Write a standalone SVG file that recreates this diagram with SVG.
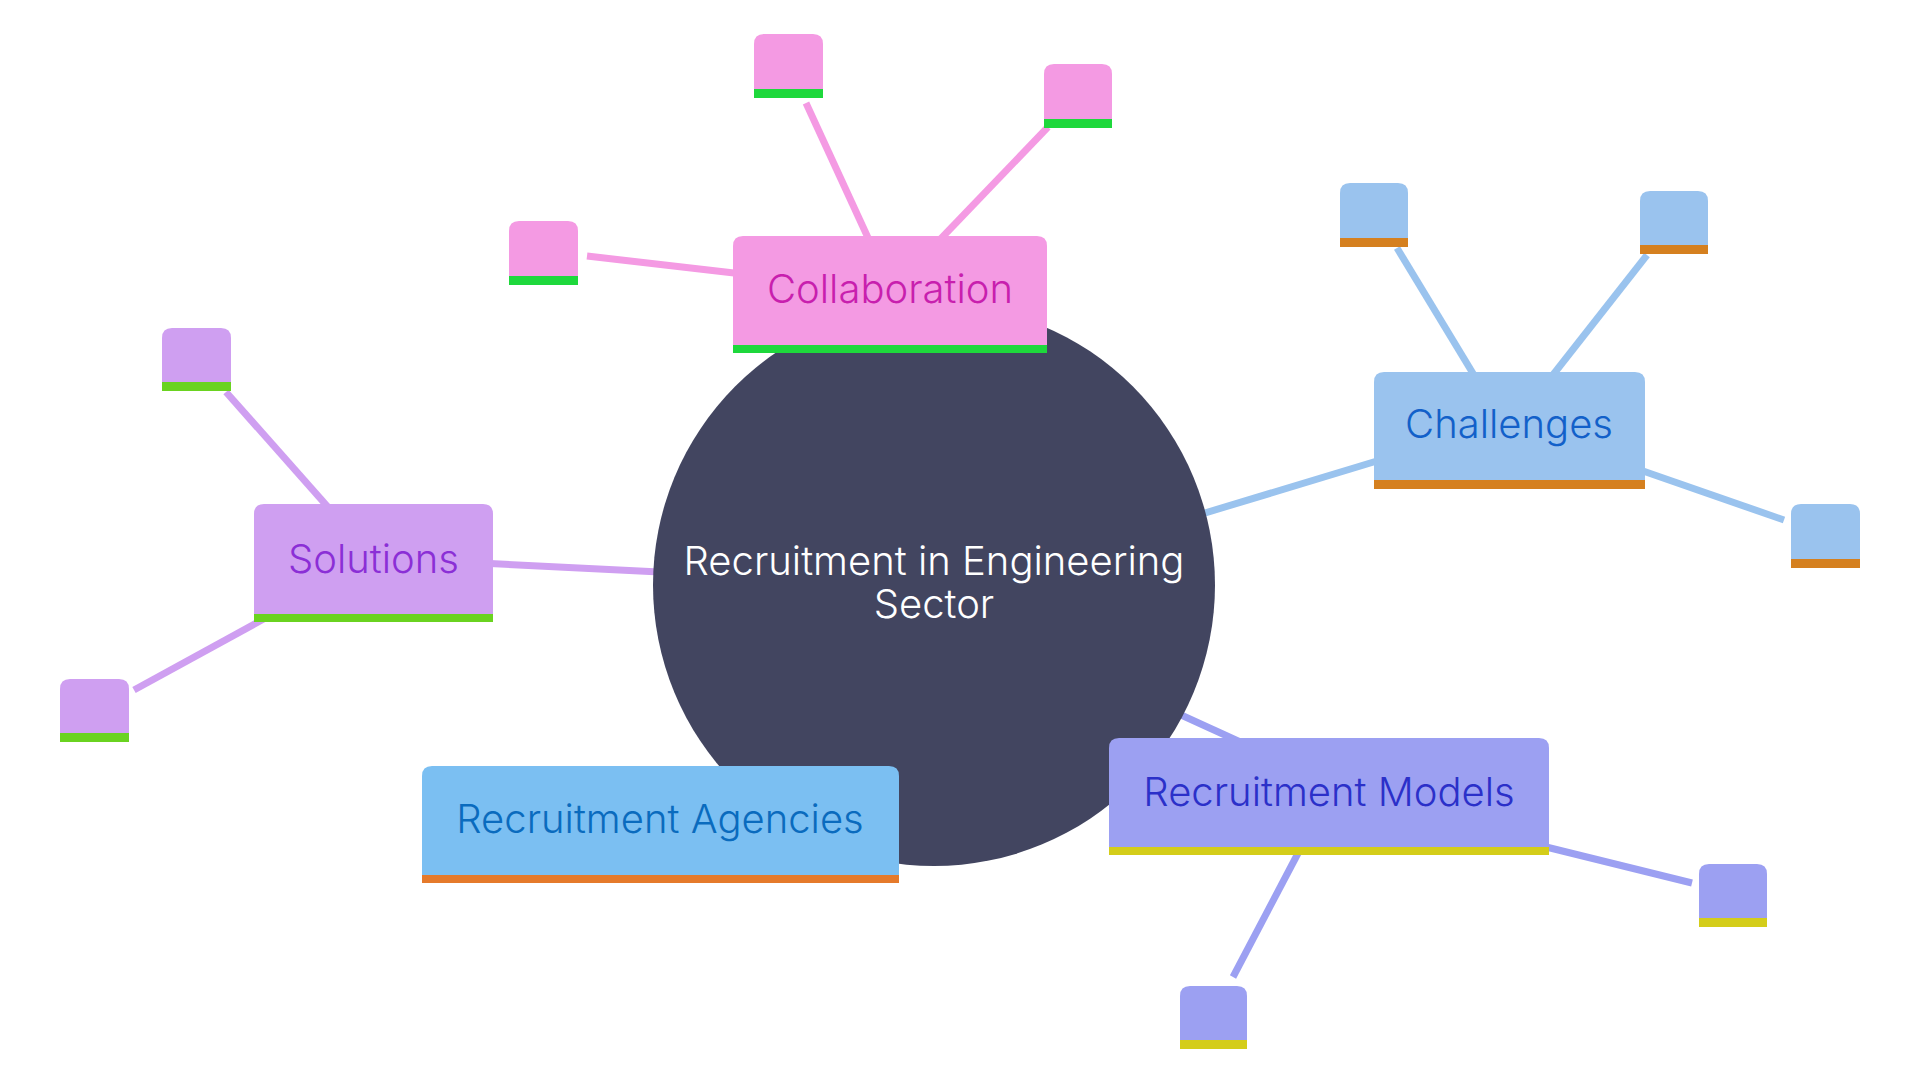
<svg xmlns="http://www.w3.org/2000/svg" width="1920" height="1080" viewBox="0 0 1920 1080">
<style>
  text { font-family: Inter, "Liberation Sans", sans-serif; font-size: 40px; font-weight: 300; text-anchor: middle; }
  .edge { fill: none; stroke-width: 7; stroke-linecap: butt; }
  .e-collab { stroke: #F49AE3; }
  .e-chal { stroke: #9AC3EE; }
  .e-sol { stroke: #CF9FF1; }
  .e-mod { stroke: #9CA0F2; }
  .f-collab { fill: #F49AE3; }
  .f-chal { fill: #9AC3EE; }
  .f-sol { fill: #CF9FF1; }
  .f-agen { fill: #7BBFF2; }
  .f-mod { fill: #9CA0F2; }
  .b-green { fill: #1ED83C; }
  .b-orange { fill: #D5801F; }
  .b-lime { fill: #6AD320; }
  .b-orange2 { fill: #E57A2B; }
  .b-yellow { fill: #D4CD1A; }
  .t-collab { fill: #C81FAE; }
  .t-chal { fill: #1260C9; }
  .t-sol { fill: #8B2FD6; }
  .t-agen { fill: #0A6BBE; }
  .t-mod { fill: #2B30C9; }
  .t-root { fill: #FFFFFF; font-size: 40px; }
</style>
<rect width="1920" height="1080" fill="#FFFFFF"/>
<g id="connectors">
  <line class="edge e-collab" x1="587" y1="256" x2="760" y2="276"/>
  <line class="edge e-collab" x1="806" y1="103" x2="875" y2="253"/>
  <line class="edge e-collab" x1="1048" y1="127" x2="930" y2="250"/>
  <line class="edge e-chal" x1="1000" y1="575" x2="1400" y2="454"/>
  <line class="edge e-chal" x1="1397" y1="248" x2="1480" y2="385"/>
  <line class="edge e-chal" x1="1647" y1="255" x2="1545" y2="385"/>
  <line class="edge e-chal" x1="1784" y1="520" x2="1620" y2="463"/>
  <line class="edge e-sol" x1="480" y1="563" x2="700" y2="574"/>
  <line class="edge e-sol" x1="226" y1="392" x2="335" y2="515"/>
  <line class="edge e-sol" x1="134" y1="690" x2="280" y2="610"/>
  <line class="edge e-mod" x1="1100" y1="678" x2="1260" y2="751"/>
  <line class="edge e-mod" x1="1530" y1="843" x2="1692" y2="883"/>
  <line class="edge e-mod" x1="1305" y1="840" x2="1233" y2="977"/>
</g>
<g id="root">
  <circle cx="934" cy="585" r="281" fill="#424560"/>
  <text class="t-root" x="934" y="575">Recruitment in Engineering<tspan x="934" dy="43">Sector</tspan></text>
</g>
<g id="collaboration">
  <path class="f-collab" d="M733,353 V246 Q733,236 743,236 H1037 Q1047,236 1047,246 V353 Z"/>
  <rect class="b-green" x="733" y="345" width="314" height="8"/>
  <text class="t-collab" x="890" y="303">Collaboration</text>
</g>
<g id="challenges">
  <path class="f-chal" d="M1374,489 V382 Q1374,372 1384,372 H1635 Q1645,372 1645,382 V489 Z"/>
  <rect class="b-orange" x="1374" y="480" width="271" height="9"/>
  <text class="t-chal" x="1509" y="438">Challenges</text>
</g>
<g id="solutions">
  <path class="f-sol" d="M254,622 V514 Q254,504 264,504 H483 Q493,504 493,514 V622 Z"/>
  <rect class="b-lime" x="254" y="614" width="239" height="8"/>
  <text class="t-sol" x="373.5" y="573">Solutions</text>
</g>
<g id="recruitment-agencies">
  <path class="f-agen" d="M422,883 V776 Q422,766 432,766 H889 Q899,766 899,776 V883 Z"/>
  <rect class="b-orange2" x="422" y="875" width="477" height="8"/>
  <text class="t-agen" x="660" y="833">Recruitment Agencies</text>
</g>
<g id="recruitment-models">
  <path class="f-mod" d="M1109,855 V748 Q1109,738 1119,738 H1539 Q1549,738 1549,748 V855 Z"/>
  <rect class="b-yellow" x="1109" y="847" width="440" height="8"/>
  <text class="t-mod" x="1329" y="806">Recruitment Models</text>
</g>
<g id="collab-leaf-1">
  <path class="f-collab" d="M509,285 V231 Q509,221 519,221 H568 Q578,221 578,231 V285 Z"/>
  <rect class="b-green" x="509" y="276" width="69" height="9"/>
</g>
<g id="collab-leaf-2">
  <path class="f-collab" d="M754,98 V44 Q754,34 764,34 H813 Q823,34 823,44 V98 Z"/>
  <rect class="b-green" x="754" y="89" width="69" height="9"/>
</g>
<g id="collab-leaf-3">
  <path class="f-collab" d="M1044,128 V74 Q1044,64 1054,64 H1102 Q1112,64 1112,74 V128 Z"/>
  <rect class="b-green" x="1044" y="119" width="68" height="9"/>
</g>
<g id="chal-leaf-1">
  <path class="f-chal" d="M1340,247 V193 Q1340,183 1350,183 H1398 Q1408,183 1408,193 V247 Z"/>
  <rect class="b-orange" x="1340" y="238" width="68" height="9"/>
</g>
<g id="chal-leaf-2">
  <path class="f-chal" d="M1640,254 V201 Q1640,191 1650,191 H1698 Q1708,191 1708,201 V254 Z"/>
  <rect class="b-orange" x="1640" y="245" width="68" height="9"/>
</g>
<g id="chal-leaf-3">
  <path class="f-chal" d="M1791,568 V514 Q1791,504 1801,504 H1850 Q1860,504 1860,514 V568 Z"/>
  <rect class="b-orange" x="1791" y="559" width="69" height="9"/>
</g>
<g id="sol-leaf-1">
  <path class="f-sol" d="M162,391 V338 Q162,328 172,328 H221 Q231,328 231,338 V391 Z"/>
  <rect class="b-lime" x="162" y="382" width="69" height="9"/>
</g>
<g id="sol-leaf-2">
  <path class="f-sol" d="M60,742 V689 Q60,679 70,679 H119 Q129,679 129,689 V742 Z"/>
  <rect class="b-lime" x="60" y="733" width="69" height="9"/>
</g>
<g id="mod-leaf-1">
  <path class="f-mod" d="M1699,927 V874 Q1699,864 1709,864 H1757 Q1767,864 1767,874 V927 Z"/>
  <rect class="b-yellow" x="1699" y="918" width="68" height="9"/>
</g>
<g id="mod-leaf-2">
  <path class="f-mod" d="M1180,1049 V996 Q1180,986 1190,986 H1237 Q1247,986 1247,996 V1049 Z"/>
  <rect class="b-yellow" x="1180" y="1040" width="67" height="9"/>
</g>
</svg>
